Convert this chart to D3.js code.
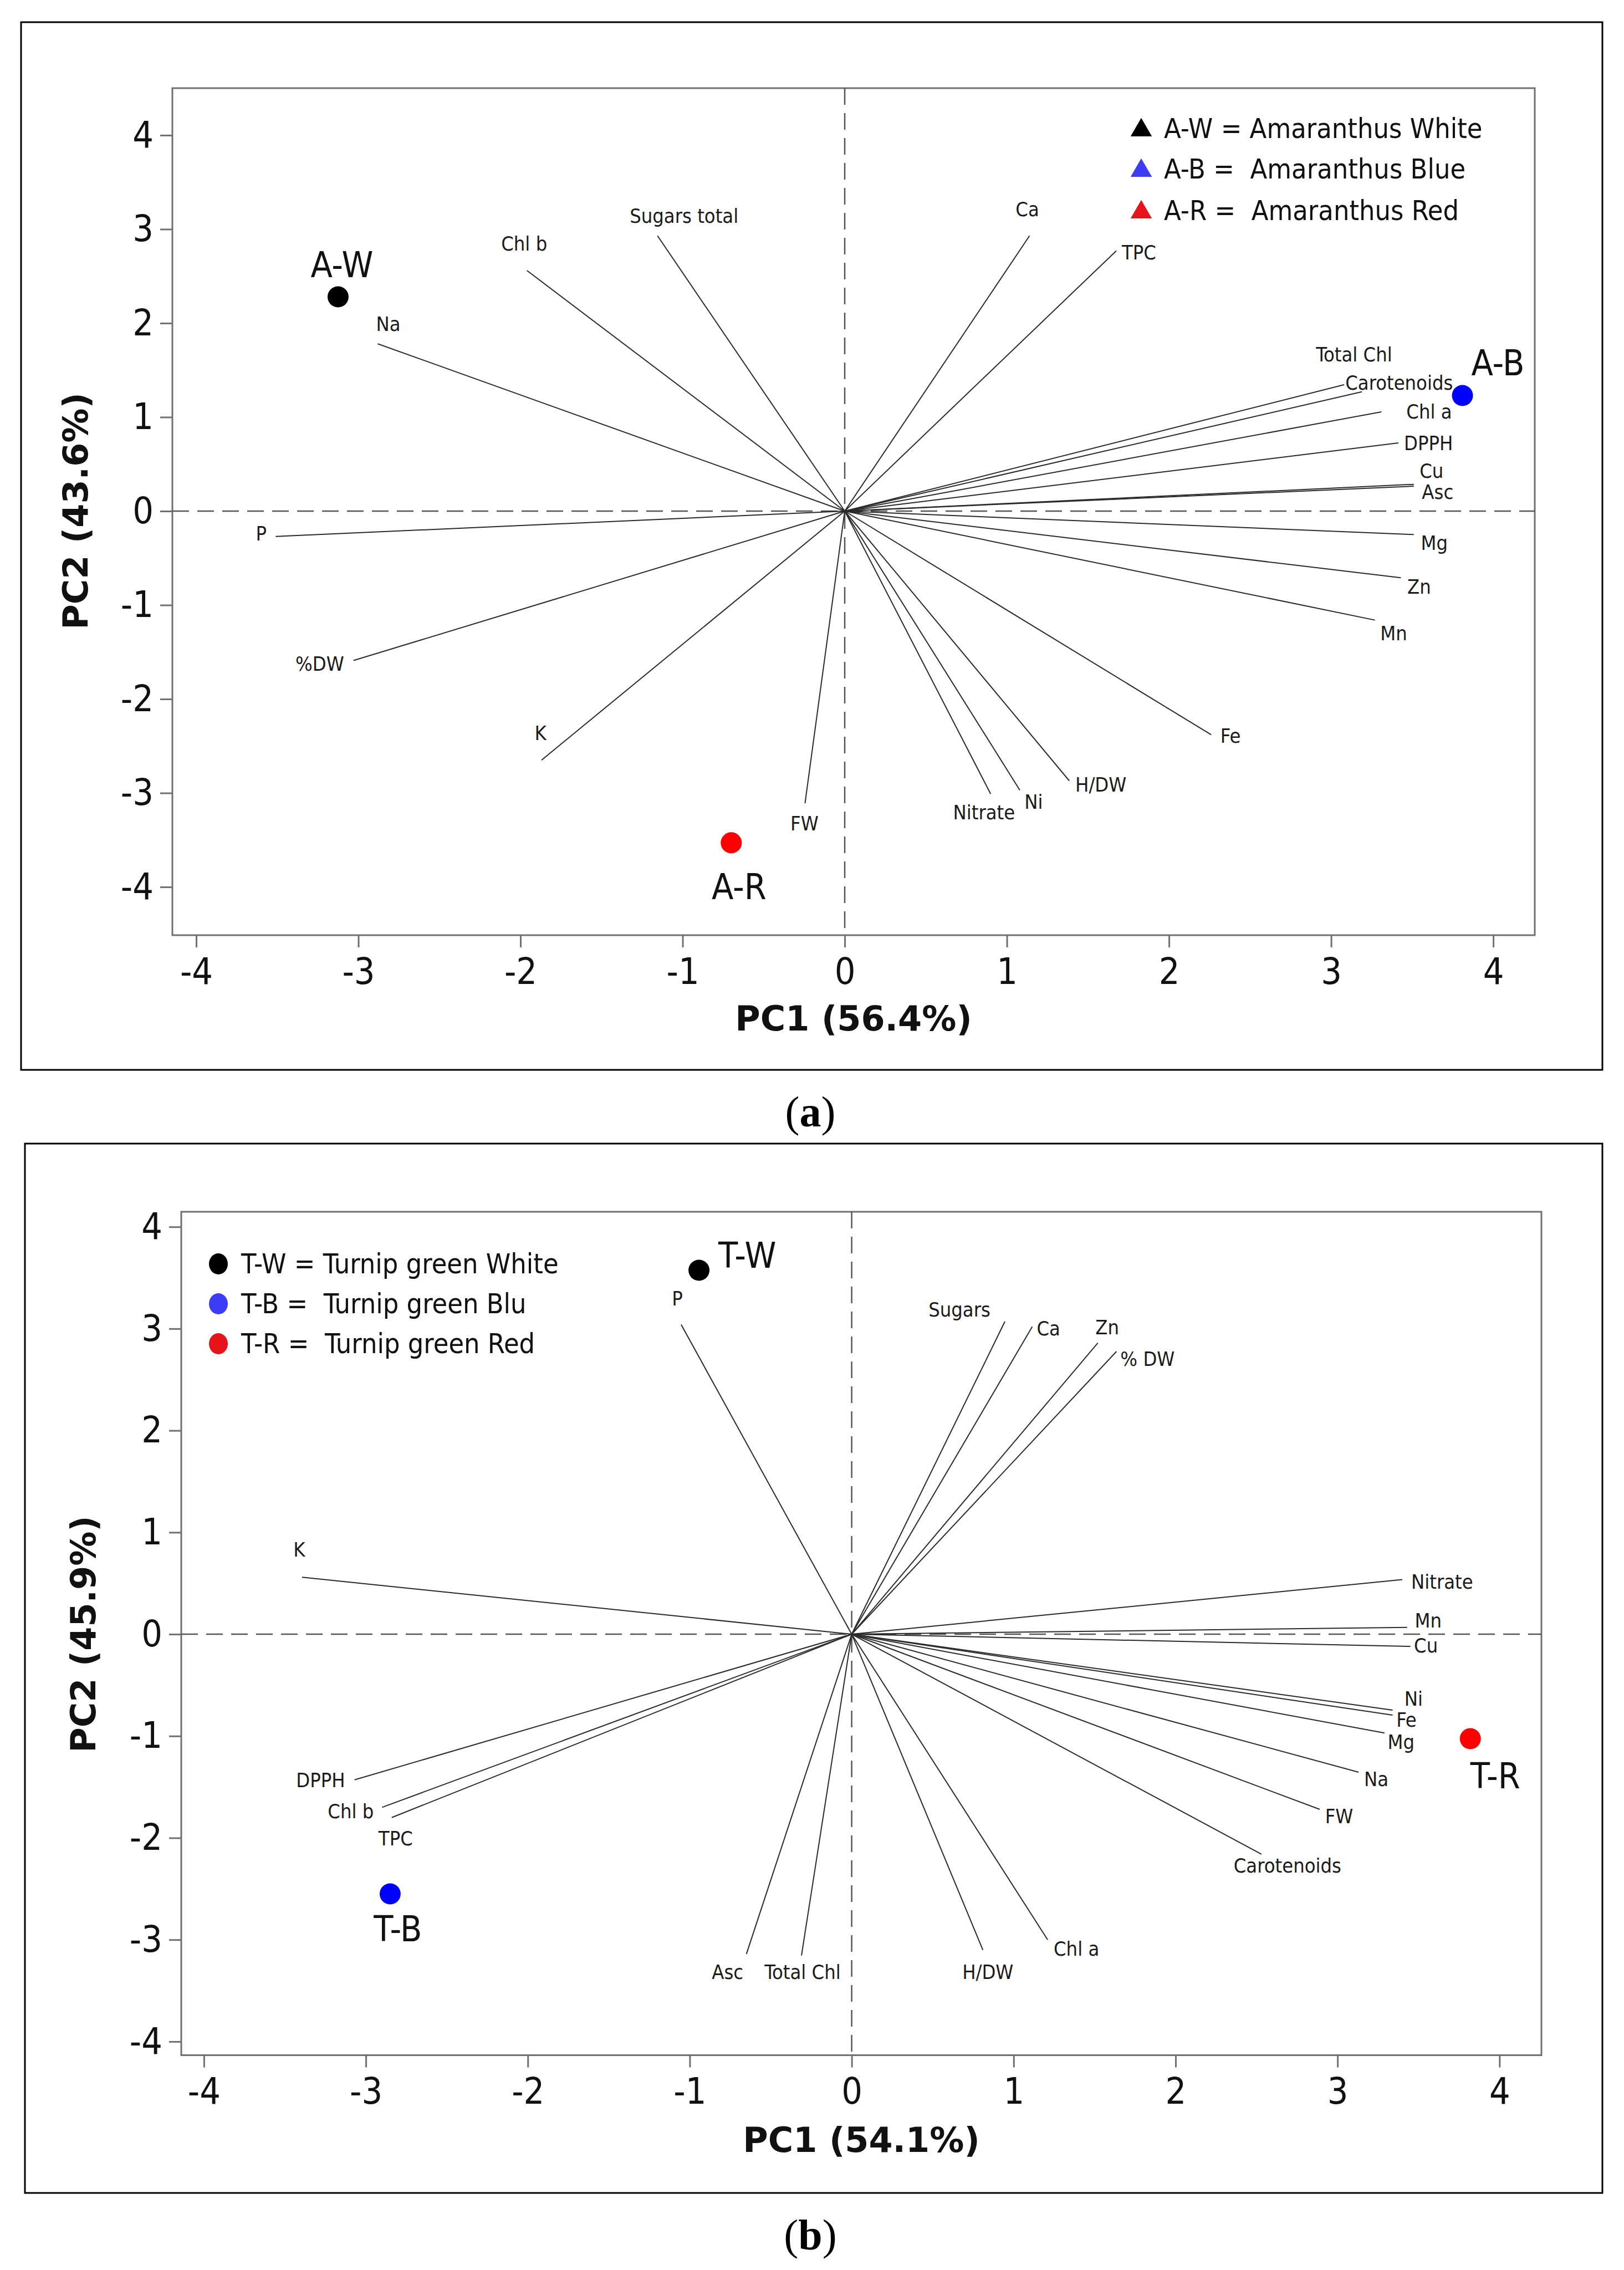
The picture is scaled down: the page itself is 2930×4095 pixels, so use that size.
<!DOCTYPE html>
<html lang="en">
<head>
<meta charset="UTF-8">
<title>PCA biplots</title>
<style>
    body{ margin:0; background:#fff; }
    svg{ display:block; }
</style>
</head>
<body>
<svg width="2930" height="4095"></svg>
<script src="https://cdn.jsdelivr.net/npm/d3@7/dist/d3.min.js"></script>
<script>
// ---- data ----
var ticks = [-4, -3, -2, -1, 0, 1, 2, 3, 4];
var groupColors = ["#000000", "#0000ff", "#ff0000"];
var legendColors = ["#000000", "#3c3cf5", "#e8141b"];

// (a) Amaranthus
var varsA = ["Na", "Chl b", "Sugars total", "Ca", "TPC", "Total Chl", "Carotenoids", "Chl a", "DPPH", "Cu", "Asc",
             "Mg", "Zn", "Mn", "Fe", "H/DW", "Ni", "Nitrate", "FW", "K", "%DW", "P"];
var pc1A = [-2.88, -1.96, -1.155, 1.14, 1.675, 3.08, 3.19, 3.31, 3.415, 3.51, 3.51,
            3.51, 3.43, 3.27, 2.26, 1.385, 1.08, 0.90, -0.245, -1.87, -3.03, -3.51];
var pc2A = [1.78, 2.56, 2.93, 2.93, 2.77, 1.345, 1.27, 1.056, 0.725, 0.285, 0.265,
            -0.25, -0.71, -1.16, -2.38, -2.87, -2.97, -3.01, -3.11, -2.65, -1.59, -0.27];
var groupsA = ["A-W", "A-B", "A-R"];
var scoreA1 = [-3.125, 3.81, -0.70];
var scoreA2 = [2.28, 1.23, -3.53];
var legendA = ["A-W = Amaranthus White", "A-B =  Amaranthus Blue", "A-R =  Amaranthus Red"];

// (b) Turnip green
var varsB = ["P", "K", "Sugars", "Ca", "Zn", "% DW", "Nitrate", "Mn", "Cu", "Ni", "Fe", "Mg", "Na", "FW",
             "Carotenoids", "Chl a", "H/DW", "Total Chl", "Asc", "DPPH", "Chl b", "TPC"];
var pc1B = [-1.053, -3.394, 0.946, 1.115, 1.52, 1.635, 3.40, 3.43, 3.45, 3.34, 3.34, 3.29, 3.13, 2.89,
            2.53, 1.21, 0.81, -0.31, -0.65, -3.07, -2.90, -2.84];
var pc2B = [3.04, 0.56, 3.07, 3.02, 2.86, 2.776, 0.536, 0.067, -0.12, -0.745, -0.795, -0.97, -1.355, -1.72,
            -2.16, -3.00, -3.10, -3.155, -3.14, -1.43, -1.70, -1.80];
var groupsB = ["T-W", "T-B", "T-R"];
var scoreB1 = [-0.943, -2.85, 3.82];
var scoreB2 = [3.574, -2.55, -1.026];
var legendB = ["T-W = Turnip green White", "T-B =  Turnip green Blu", "T-R =  Turnip green Red"];

// ---- label placement (px offsets from the arrow tip) ----
var labelPosA = {
    "Na":[19,-23,"middle"], "Chl b":[-5,-36,"middle"], "Sugars total":[48,-23,"middle"], "Ca":[-4,-35,"middle"],
    "TPC":[10,16,"start"], "Total Chl":[18,-42,"middle"], "Carotenoids":[-30,-4,"start"], "Chl a":[45,12,"start"],
    "DPPH":[10,13,"start"], "Cu":[32,-12,"middle"], "Asc":[43,23,"middle"], "Mg":[37,28,"middle"],
    "Zn":[33,29,"middle"], "Mn":[34,36,"middle"], "Fe":[35,15,"middle"], "H/DW":[57,20,"middle"],
    "Ni":[25,34,"middle"], "Nitrate":[-12,46,"middle"], "FW":[-1,49,"middle"], "K":[-2,-36,"middle"],
    "%DW":[-17,18,"end"], "P":[-26,7,"middle"]
};
var labelPosB = {
    "P":[-7,-35,"middle"], "K":[-5,-37,"middle"], "Sugars":[-82,-9,"middle"], "Ca":[8,16,"start"],
    "Zn":[17,-16,"middle"], "% DW":[7,26,"start"], "Nitrate":[16,16,"start"], "Mn":[38,0,"middle"],
    "Cu":[28,11,"middle"], "Ni":[38,-8,"middle"], "Fe":[25,21,"middle"], "Mg":[30,29,"middle"],
    "Na":[32,25,"middle"], "FW":[35,25,"middle"], "Carotenoids":[47,33,"middle"], "Chl a":[52,29,"middle"],
    "H/DW":[9,52,"middle"], "Total Chl":[2,42,"middle"], "Asc":[-34,45,"middle"], "DPPH":[-17,13,"end"],
    "Chl b":[-15,20,"end"], "TPC":[7,50,"middle"]
};
var scoreLabelA = [[7,-35,"middle"], [16,-36,"start"], [14,102,"middle"]];
var scoreLabelB = [[35,-4,"start"], [14,85,"middle"], [45,89,"middle"]];

var LABEL_FONT = "'DejaVu Sans Condensed','DejaVu Sans',sans-serif";
var TITLE_FONT = "'DejaVu Sans',Verdana,sans-serif";

var svg = d3.select("svg");

drawPanel({
    box:[38, 40, 2891, 1930], left:311, right:2769, top:159, bottom:1687,
    xDomain:[-4.147, 4.256], yDomain:[-4.513, 4.501],
    vars:varsA, pc1:pc1A, pc2:pc2A, labelPos:labelPosA,
    groups:groupsA, s1:scoreA1, s2:scoreA2, scoreLabel:scoreLabelA,
    legend:legendA, legendShape:"triangle", legendX:2059, legendY:[249, 322, 397],
    xTitle:"PC1 (56.4%)", yTitle:"PC2 (43.6%)", xTitleY:1859, yTitleX:158,
    tag:"a", tagY:2032
});
drawPanel({
    box:[45, 2063, 2891, 3956], left:327, right:2781, top:2186, bottom:3707.5,
    xDomain:[-4.140, 4.259], yDomain:[-4.134, 4.148],
    vars:varsB, pc1:pc1B, pc2:pc2B, labelPos:labelPosB,
    groups:groupsB, s1:scoreB1, s2:scoreB2, scoreLabel:scoreLabelB,
    legend:legendB, legendShape:"circle", legendX:394, legendY:[2297, 2369, 2441],
    xTitle:"PC1 (54.1%)", yTitle:"PC2 (45.9%)", xTitleY:3882, yTitleX:172,
    tag:"b", tagY:4058
});

function drawPanel(p){
    var g = svg.append("g");
    var x = d3.scaleLinear().domain(p.xDomain).range([p.left, p.right]);
    var y = d3.scaleLinear().domain(p.yDomain).range([p.bottom, p.top]);

    // outer box
    g.append("rect").attr("x", p.box[0]).attr("y", p.box[1])
        .attr("width", p.box[2]-p.box[0]).attr("height", p.box[3]-p.box[1])
        .attr("fill", "none").attr("stroke", "#000").attr("stroke-width", 3);

    // plot frame
    g.append("rect").attr("x", p.left).attr("y", p.top)
        .attr("width", p.right-p.left).attr("height", p.bottom-p.top)
        .attr("fill", "none").attr("stroke", "#707070").attr("stroke-width", 3);

    // dashed zero lines
    g.append("line").attr("x1", p.left).attr("x2", p.right).attr("y1", y(0)).attr("y2", y(0))
        .attr("stroke", "#555").attr("stroke-width", 2.5).attr("stroke-dasharray", "30,15");
    g.append("line").attr("x1", x(0)).attr("x2", x(0)).attr("y1", p.top).attr("y2", p.bottom)
        .attr("stroke", "#555").attr("stroke-width", 2.5).attr("stroke-dasharray", "30,15");

    // axes
    var xa = g.append("g").attr("transform", "translate(0," + p.bottom + ")")
        .call(d3.axisBottom(x).tickValues(ticks).tickSize(22).tickPadding(19).tickFormat(function(d){return d;}));
    var ya = g.append("g").attr("transform", "translate(" + p.left + ",0)")
        .call(d3.axisLeft(y).tickValues(ticks).tickSize(22).tickPadding(12).tickFormat(function(d){return d;}));
    [xa, ya].forEach(function(a){
        a.select(".domain").remove();
        a.attr("font-size", 66).attr("font-family", LABEL_FONT);
        a.selectAll("line").attr("stroke", "#707070").attr("stroke-width", 3);
        a.selectAll("text").attr("fill", "#111");
    });

    // loading vectors
    var vec = p.vars.map(function(n, i){ return {name:n, x:p.pc1[i], y:p.pc2[i]}; });
    g.append("g").selectAll("line").data(vec).enter().append("line")
        .attr("x1", x(0)).attr("y1", y(0))
        .attr("x2", function(d){return x(d.x)}).attr("y2", function(d){return y(d.y)})
        .attr("stroke", "#2a2a2a").attr("stroke-width", 2);
    g.append("g").selectAll("text").data(vec).enter().append("text")
        .attr("x", function(d){return x(d.x) + p.labelPos[d.name][0]})
        .attr("y", function(d){return y(d.y) + p.labelPos[d.name][1]})
        .attr("text-anchor", function(d){return p.labelPos[d.name][2]})
        .attr("font-family", LABEL_FONT).attr("font-size", 36).attr("fill", "#1a1a1a")
        .text(function(d){return d.name});

    // scores
    var sc = p.groups.map(function(n, i){ return {name:n, x:p.s1[i], y:p.s2[i], c:groupColors[i], l:p.scoreLabel[i]}; });
    g.append("g").selectAll("circle").data(sc).enter().append("circle")
        .attr("cx", function(d){return x(d.x)}).attr("cy", function(d){return y(d.y)})
        .attr("r", 19).attr("fill", function(d){return d.c});
    g.append("g").selectAll("text").data(sc).enter().append("text")
        .attr("x", function(d){return x(d.x) + d.l[0]}).attr("y", function(d){return y(d.y) + d.l[1]})
        .attr("text-anchor", function(d){return d.l[2]})
        .attr("font-family", LABEL_FONT).attr("font-size", 64).attr("fill", "#111")
        .text(function(d){return d.name});

    // legend
    var lg = g.append("g");
    p.legend.forEach(function(t, i){
        if (p.legendShape === "triangle") {
            lg.append("path").attr("d", d3.symbol(d3.symbolTriangle, 640)())
                .attr("transform", "translate(" + p.legendX + "," + (p.legendY[i] - 14) + ")")
                .attr("fill", legendColors[i]);
        } else {
            lg.append("ellipse").attr("cx", p.legendX).attr("cy", p.legendY[i] - 17)
                .attr("rx", 17).attr("ry", 19).attr("fill", legendColors[i]);
        }
        lg.append("text").attr("x", p.legendX + 41).attr("y", p.legendY[i])
            .attr("font-family", LABEL_FONT).attr("font-size", 50).attr("fill", "#111")
            .style("white-space", "pre").text(t);
    });

    // axis titles
    g.append("text").attr("x", (p.left + p.right)/2).attr("y", p.xTitleY)
        .attr("text-anchor", "middle").attr("font-family", TITLE_FONT)
        .attr("font-weight", "bold").attr("font-size", 62).attr("fill", "#111").text(p.xTitle);
    g.append("text")
        .attr("transform", "translate(" + p.yTitleX + "," + y(0) + ") rotate(-90)")
        .attr("text-anchor", "middle").attr("font-family", TITLE_FONT)
        .attr("font-weight", "bold").attr("font-size", 62).attr("fill", "#111").text(p.yTitle);

    // panel tag
    var tg = svg.append("text").attr("x", 1462).attr("y", p.tagY).attr("text-anchor", "middle")
        .attr("font-family", "'Liberation Serif','DejaVu Serif',serif").attr("font-size", 78).attr("fill", "#000");
    tg.append("tspan").text("(");
    tg.append("tspan").attr("font-weight", "bold").text(p.tag);
    tg.append("tspan").text(")");
}
</script>
</body>
</html>
